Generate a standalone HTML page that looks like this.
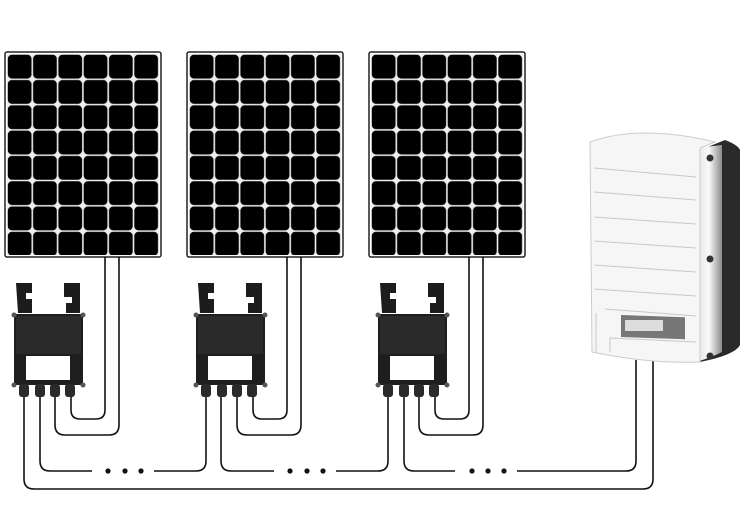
<!DOCTYPE html>
<html><head><meta charset="utf-8"><style>
html,body{margin:0;padding:0;background:#fff;}
svg{display:block;}
</style></head><body>
<svg width="752" height="507" viewBox="0 0 752 507" xmlns="http://www.w3.org/2000/svg">
<defs>
<pattern id="cells" x="7" y="54" width="25.3" height="25.3" patternUnits="userSpaceOnUse">
<rect x="0.8" y="0.8" width="23.7" height="23.7" rx="4" fill="#000"/>
</pattern>
<g id="unit">
 <rect x="5" y="52" width="156" height="205" rx="2" fill="#fff" stroke="#222" stroke-width="1.5"/>
 <rect x="7" y="54" width="152" height="201" fill="#eee"/>
 <rect x="7" y="54" width="152" height="201" fill="url(#cells)"/>
 <g fill="none" stroke="#111" stroke-width="1.6">
  <path d="M105 257 V410 Q105 419 96 419 H80 Q71 419 71 410 V395"/>
  <path d="M119 257 V425 Q119 435 109 435 H65 Q55 435 55 425 V395"/>
 </g>
 <path d="M16 283 h16 v10 h-6 v6 h6 v14 h-14 z" fill="#1c1c1c"/>
 <path d="M64 283 h16 v30 h-14 v-10 h6 v-6 h-8 z" fill="#1c1c1c"/>
 <rect x="14" y="314" width="69" height="71" rx="3" fill="#1e1e1e"/>
 <rect x="16" y="316" width="65" height="38" fill="#2a2a2a"/>
 <circle cx="14" cy="315" r="2.5" fill="#555"/><circle cx="83" cy="315" r="2.5" fill="#555"/>
 <circle cx="14" cy="385" r="2.5" fill="#555"/><circle cx="83" cy="385" r="2.5" fill="#555"/>
 <rect x="26" y="356" width="44" height="24" fill="#fff"/>
 <rect x="19" y="384" width="10" height="13" rx="3" fill="#2a2a2a"/>
 <rect x="35" y="384" width="10" height="13" rx="3" fill="#2a2a2a"/>
 <rect x="50" y="384" width="10" height="13" rx="3" fill="#2a2a2a"/>
 <rect x="65" y="384" width="10" height="13" rx="3" fill="#2a2a2a"/>
</g>
</defs>
<use href="#unit"/>
<use href="#unit" x="182"/>
<use href="#unit" x="364"/>
<g fill="none" stroke="#111" stroke-width="1.6">
 <path d="M40 397 V461 Q40 471 50 471 H92"/>
 <path d="M154 471 H196 Q206 471 206 461 V397"/>
 <path d="M221 397 V461 Q221 471 231 471 H274"/>
 <path d="M336 471 H378 Q388 471 388 461 V397"/>
 <path d="M404 397 V461 Q404 471 414 471 H455"/>
 <path d="M517 471 H626 Q636 471 636 461 V360"/>
 <path d="M24 397 V479 Q24 489 34 489 H643 Q653 489 653 479 V360"/>
</g>
<g fill="#111">
 <circle cx="108" cy="471" r="2.6"/><circle cx="125" cy="471" r="2.6"/><circle cx="141" cy="471" r="2.6"/>
 <circle cx="290" cy="471" r="2.6"/><circle cx="307" cy="471" r="2.6"/><circle cx="323" cy="471" r="2.6"/>
 <circle cx="472" cy="471" r="2.6"/><circle cx="488" cy="471" r="2.6"/><circle cx="504" cy="471" r="2.6"/>
</g>
<defs>
<linearGradient id="side" x1="0" x2="1"><stop offset="0" stop-color="#e0e0e0"/><stop offset="0.5" stop-color="#fafafa"/><stop offset="1" stop-color="#8a8a8a"/></linearGradient>
</defs>
<path d="M700 150 L725 140 Q738 145 740 150 V345 Q735 355 700 362 Z" fill="#2a2a2a"/>
<path d="M696 148 L722 145 V352 Q710 358 696 362 Z" fill="url(#side)"/>
<path d="M590 142 Q640 124 715 142 L700 148 V362 Q650 364 592 352 Z" fill="#f6f6f6" stroke="#ccc" stroke-width="1"/>
<g stroke="#c8c8c8" stroke-width="1" fill="none">
 <path d="M594 168 L696 177"/><path d="M594 192 L696 200"/><path d="M594 217 L696 224"/>
 <path d="M594 241 L696 248"/><path d="M594 265 L696 272"/><path d="M594 289 L696 296"/>
 <path d="M605 309 L696 316"/><path d="M596 352 V313 M610 352 V338 L696 342"/>
</g>
<rect x="621" y="315" width="64" height="22" fill="#777" transform="skewY(2)" transform-origin="621 315"/>
<rect x="625" y="320" width="38" height="11" fill="#ddd"/>
<circle cx="710" cy="158" r="3.5" fill="#333"/><circle cx="710" cy="259" r="3.5" fill="#333"/><circle cx="710" cy="356" r="3.5" fill="#333"/>
</svg>
</body></html>
